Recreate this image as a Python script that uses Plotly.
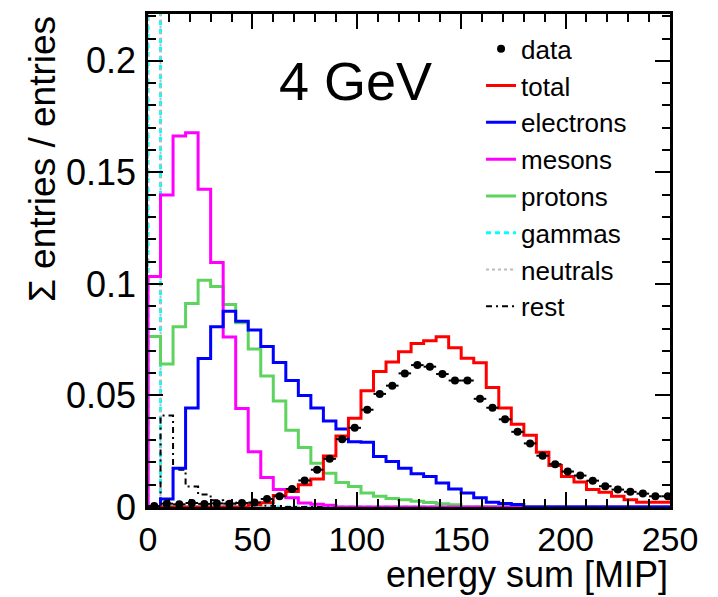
import numpy as np
import plotly.graph_objects as go

# ---- data (bin width 6 MIP, bins start at 0) ----
bin_width = 6
data_vals = [0.0004, 0.0015, 0.0012, 0.0018, 0.0014, 0.0016, 0.0015, 0.0018, 0.0020, 0.0036,
             0.0048, 0.0081, 0.0119, 0.0167, 0.0216, 0.0304, 0.0355, 0.0436, 0.0507, 0.0544,
             0.0599, 0.0636, 0.0629, 0.0596, 0.0567, 0.0567, 0.0485, 0.0445, 0.0393, 0.0337,
             0.0285, 0.0230, 0.0192, 0.0159, 0.0141, 0.0118, 0.0093, 0.0078, 0.0068, 0.0060,
             0.0048, 0.0048]
total_vals = [0, 0, 0, 0, 0, 0, 0, 0, 0.0010, 0.0019,
              0.0051, 0.0070, 0.0100, 0.0125, 0.0229, 0.0318, 0.0398, 0.0521, 0.0607, 0.0650,
              0.0696, 0.0733, 0.0745, 0.0763, 0.0714, 0.0667, 0.0647, 0.0536, 0.0444, 0.0371,
              0.0322, 0.0245, 0.0186, 0.0137, 0.0112, 0.0078, 0.0066, 0.0048, 0.0033, 0.0021,
              0.0021, 0.0021]
electron_vals = [0, 0.0036, 0.0174, 0.0444, 0.0666, 0.0808, 0.0878, 0.0833, 0.0793, 0.0719,
                 0.0648, 0.0567, 0.0500, 0.0444, 0.0386, 0.0350, 0.0293, 0.0290, 0.0226, 0.0204,
                 0.0174, 0.0149, 0.0137, 0.0108, 0.0081, 0.0063, 0.0041, 0.0021, 0.0016, 0.0011,
                 0, 0, 0, 0, 0, 0, 0, 0, 0, 0, 0, 0]
meson_vals = [0.1033, 0.1399, 0.1663, 0.1678, 0.1424, 0.1096, 0.0762, 0.0441, 0.0248, 0.0132,
              0.0078, 0.0041, 0.0018, 0.0012, 0.0008, 0, 0, 0, 0, 0,
              0, 0, 0, 0, 0, 0, 0, 0, 0, 0, 0, 0, 0, 0, 0, 0, 0, 0, 0, 0, 0, 0]
proton_vals = [0.0764, 0.0641, 0.0808, 0.0912, 0.1016, 0.0989, 0.0908, 0.0826, 0.0708, 0.0587,
               0.0475, 0.0344, 0.0267, 0.0196, 0.0151, 0.0110, 0.0092, 0.0063, 0.0048, 0.0038,
               0.0033, 0.0026, 0.0020, 0.0015, 0.0010, 0, 0, 0, 0, 0,
               0, 0, 0, 0, 0, 0, 0, 0, 0, 0, 0, 0]
gamma_vals = [1.0] + [0] * 41
neutral_vals = [0.6] + [0] * 41
rest_vals = [0, 0.0410, 0.0167, 0.0092, 0.0056, 0.0030, 0.0020, 0.0015, 0.0010, 0.0006,
             0.0004, 0, 0, 0, 0, 0, 0, 0, 0, 0,
             0, 0, 0, 0, 0, 0, 0, 0, 0, 0, 0, 0, 0, 0, 0, 0, 0, 0, 0, 0, 0, 0]

x_ticks = [0, 50, 100, 150, 200, 250]
y_ticks = [0, 0.05, 0.1, 0.15, 0.2]

FONT = "Liberation Sans, Arial, Helvetica, sans-serif"

n = len(data_vals)
edges = np.arange(n + 1) * bin_width
centers = edges[:-1] + bin_width / 2


def step(vals):
    xs = [0.0] + list(edges)
    ys = [0.0] + list(vals) + [vals[-1]]
    return xs, ys


fig = go.Figure()


def add_hist(vals, name, color, width=3, dash="solid", rank=1):
    xs, ys = step(vals)
    fig.add_trace(go.Scatter(x=xs, y=ys, mode="lines", name=name, line_shape="hv",
                             line=dict(color=color, width=width, dash=dash),
                             legendrank=rank, cliponaxis=True))


add_hist(gamma_vals, "gammas", "#00ffff", 3, "5px,4px", 6)
add_hist(neutral_vals, "neutrals", "#bbbbbb", 2, "dot", 7)
add_hist(rest_vals, "rest", "black", 2, "6px,4px,2px,4px", 8)
add_hist(proton_vals, "protons", "#5fd35f", 3, "solid", 5)
add_hist(meson_vals, "mesons", "#ff00ff", 3, "solid", 4)
add_hist(electron_vals, "electrons", "#0000ff", 3, "solid", 3)
add_hist(total_vals, "total", "#ff0000", 3, "solid", 2)

fig.add_trace(go.Scatter(x=centers, y=data_vals, mode="markers", name="data",
                         marker=dict(color="black", size=8, symbol="circle"),
                         error_x=dict(type="constant", value=bin_width / 2, width=0,
                                      thickness=2, color="black"),
                         legendrank=1))

axis_common = dict(showline=True, linecolor="black", linewidth=2.5, mirror="allticks",
                   ticks="inside", ticklen=15, tickwidth=2, tickcolor="black",
                   showgrid=False, zeroline=False)

fig.update_xaxes(range=[0, 250], tickvals=x_ticks, ticktext=[str(v) for v in x_ticks],
                 tickfont=dict(family=FONT, size=34, color="black"),
                 minor=dict(dtick=10, ticklen=8, tickwidth=2, tickcolor="black", ticks="inside"),
                 **axis_common)
fig.update_yaxes(range=[0, 0.221], tickvals=y_ticks, ticktext=["0", "0.05", "0.1", "0.15", "0.2"],
                 tickfont=dict(family=FONT, size=36, color="black"), ticklabelstandoff=2,
                 minor=dict(dtick=0.01, ticklen=8, tickwidth=2, tickcolor="black", ticks="inside"),
                 **axis_common)

fig.update_layout(
    width=718, height=597,
    margin=dict(l=148, r=48, t=11, b=90),
    paper_bgcolor="white", plot_bgcolor="white",
    font=dict(family=FONT, color="black"),
    showlegend=True,
    legend=dict(x=0.638, y=0.977, xanchor="left", yanchor="top",
                bgcolor="rgba(0,0,0,0)", borderwidth=0,
                font=dict(family=FONT, size=26, color="black"),
                itemwidth=30, tracegroupgap=0),
    annotations=[
        dict(text="4 GeV", xref="paper", yref="paper", x=0.247, y=0.865,
             xanchor="left", yanchor="middle", showarrow=False,
             font=dict(family=FONT, size=54, color="black")),
        dict(text="Σ entries / entries", xref="paper", yref="paper", x=-0.203, y=1.0,
             xanchor="center", yanchor="top", textangle=-90, showarrow=False,
             font=dict(family=FONT, size=37, color="black")),
        dict(text="energy sum [MIP]", xref="paper", yref="paper", x=1.0, y=-0.137,
             xanchor="right", yanchor="middle", showarrow=False,
             font=dict(family=FONT, size=36, color="black")),
    ],
)

fig.write_html("out.html")
